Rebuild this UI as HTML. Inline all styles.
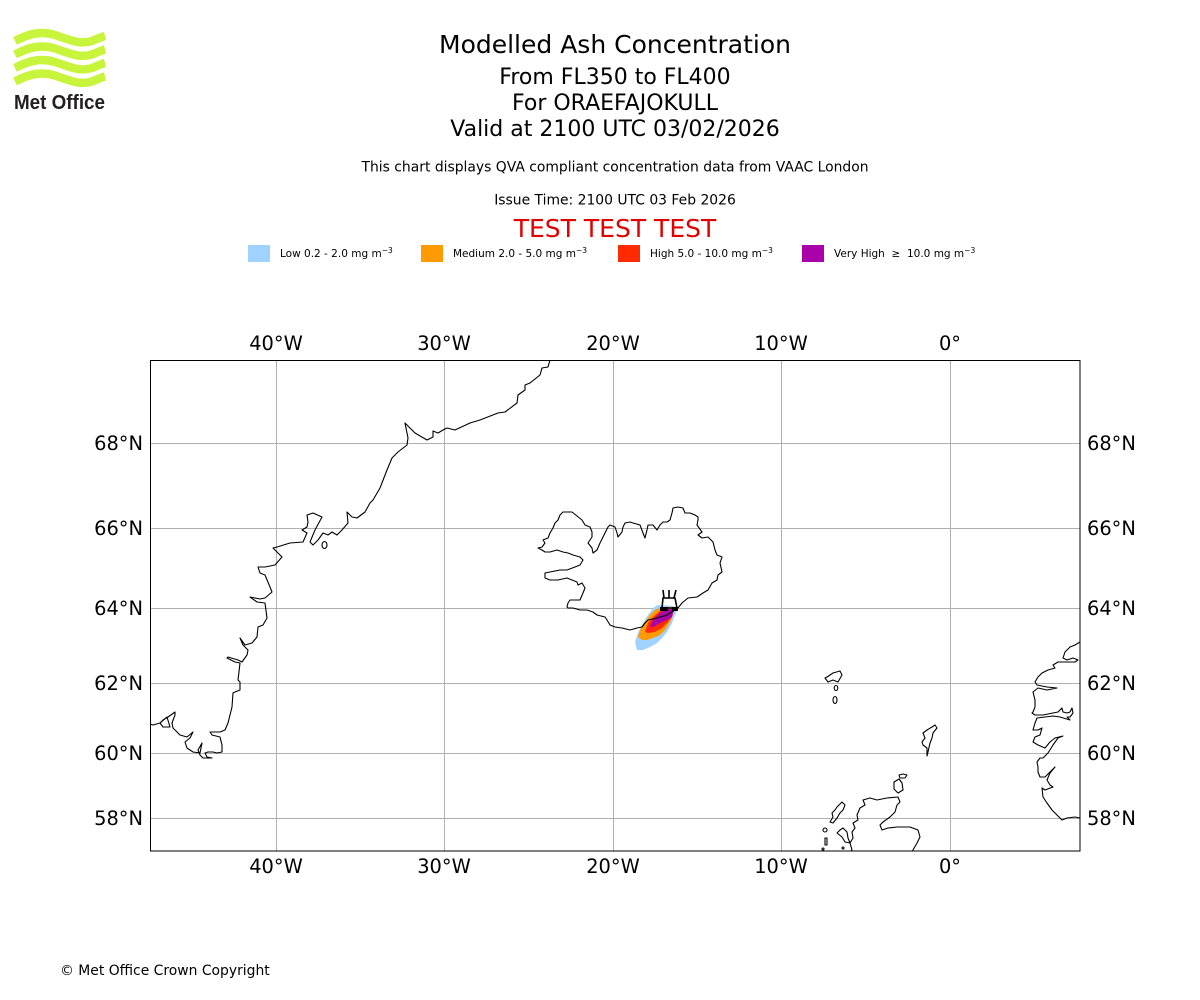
<!DOCTYPE html>
<html><head><meta charset="utf-8"><style>
html,body{margin:0;padding:0;background:#fff;}
svg{display:block;}
text{font-family:"DejaVu Sans","Liberation Sans",sans-serif;}
</style></head><body>
<svg width="1200" height="1000" viewBox="0 0 1200 1000" xmlns="http://www.w3.org/2000/svg">
<rect width="1200" height="1000" fill="#fff"/>
<!-- Logo -->
<g fill="none" stroke="#c8f53c" stroke-width="8.5" stroke-linecap="butt">
<path d="M15,41 C30,33 42,31 55,35 C70,40 80,45 92,41 C97,39 101,37 105,36"/>
<path d="M15,54.5 C30,46.5 42,44.5 55,48.5 C70,53.5 80,58.5 92,54.5 C97,52.5 101,50.5 105,49.5"/>
<path d="M15,68 C30,60 42,58 55,62 C70,67 80,72 92,68 C97,66 101,64 105,63"/>
<path d="M15,81.5 C30,73.5 42,71.5 55,75.5 C70,80.5 80,85.5 92,81.5 C97,79.5 101,77.5 105,76.5"/>
</g>
<text x="14" y="109" font-weight="bold" font-size="20" fill="#231f20" textLength="91" lengthAdjust="spacingAndGlyphs" style="font-family:'Liberation Sans',sans-serif">Met Office</text>
<!-- Titles -->
<g text-anchor="middle" fill="#000">
<text x="615" y="53" font-size="25">Modelled Ash Concentration</text>
<text x="615" y="84" font-size="22">From FL350 to FL400</text>
<text x="615" y="110" font-size="22">For ORAEFAJOKULL</text>
<text x="615" y="136" font-size="22">Valid at 2100 UTC 03/02/2026</text>
<text x="615" y="171.5" font-size="13.9">This chart displays QVA compliant concentration data from VAAC London</text>
<text x="615" y="204.5" font-size="13.9">Issue Time: 2100 UTC 03 Feb 2026</text>
<text x="615" y="237" font-size="25" fill="#e00000">TEST TEST TEST</text>
</g>
<!-- Legend -->
<rect x="248" y="245" width="22" height="17" fill="#a0d2ff"/>
<rect x="421" y="245" width="22" height="17" fill="#ff9a00"/>
<rect x="618" y="245" width="22" height="17" fill="#ff2a00"/>
<rect x="802" y="245" width="22" height="17" fill="#aa00aa"/>
<g font-size="10.5" fill="#000">
<text x="280" y="257">Low 0.2 - 2.0 mg m<tspan font-size="7.5" dy="-4">−3</tspan></text>
<text x="453" y="257">Medium 2.0 - 5.0 mg m<tspan font-size="7.5" dy="-4">−3</tspan></text>
<text x="650" y="257">High 5.0 - 10.0 mg m<tspan font-size="7.5" dy="-4">−3</tspan></text>
<text x="834" y="257">Very High&#160;&#160;≥&#160;&#160;10.0 mg m<tspan font-size="7.5" dy="-4">−3</tspan></text>
</g>
<!-- Map -->
<defs><clipPath id="mc"><rect x="150" y="360" width="930" height="491"/></clipPath></defs>
<g clip-path="url(#mc)">
<!-- gridlines -->
<g stroke="#b0b0b0" stroke-width="1">
<line x1="276.5" y1="360" x2="276.5" y2="851"/>
<line x1="444.5" y1="360" x2="444.5" y2="851"/>
<line x1="613.5" y1="360" x2="613.5" y2="851"/>
<line x1="781.5" y1="360" x2="781.5" y2="851"/>
<line x1="950.5" y1="360" x2="950.5" y2="851"/>
<line x1="150" y1="443.5" x2="1080" y2="443.5"/>
<line x1="150" y1="528.5" x2="1080" y2="528.5"/>
<line x1="150" y1="608.5" x2="1080" y2="608.5"/>
<line x1="150" y1="683.5" x2="1080" y2="683.5"/>
<line x1="150" y1="753.5" x2="1080" y2="753.5"/>
<line x1="150" y1="818.5" x2="1080" y2="818.5"/>
</g>
<!-- ash plume -->
<polygon fill="#a0d2ff" points="637,650 635,642 638,633 643,623 648,615 653,608 658,605 673,606 678,608 675,615 672,623 667,632 662,638 657,643 650,647 643,650"/>
<polygon fill="#ff9a00" points="638,637 640,630 645,622 650,615 655,610 662,607 674,607 673,615 670,622 665,630 660,635 653,638 647,640 642,640"/>
<polygon fill="#ff2a00" points="645,632 648,623 653,617 660,611 672,609 672,617 667,623 662,628 655,632 648,633"/>
<polygon fill="#aa00aa" points="650,627 653,620 660,613 667,609 674,609 672,617 667,620 660,623 653,627"/>
<!-- coastlines -->
<g fill="none" stroke="#000" stroke-width="1.1" stroke-linejoin="round">
<polyline points="550,360 548,367 542,368 540,375 530,383 525,385 525,390 518,395 517,403 505,412 498,413 480,420 470,423 455,430 447,428 443,430 438,433 433,431 433,437 427,440 415,433 405,423 408,438 407,445 398,452 392,458 387,470 380,488 373,500 370,503 365,512 357,518 352,517 347,512 348,523 342,530 337,535 332,532 328,535 323,533 318,540 313,545 310,542 315,530 322,517 313,513 307,515 308,522 307,527 302,530 307,533 303,542 290,543 277,547 273,548 278,553 282,557 275,565 265,567 258,567 260,573 265,575 270,587 272,592 265,598 260,599 250,597 257,602 265,603 267,618 263,625 258,627 257,637 252,643 245,645 240,638 243,645 248,650 247,655 242,662 238,660 228,657 227,658 235,662 240,663 238,680 240,682 240,690 235,692 233,693 232,707 228,723 225,730 220,732 210,732 212,735 220,737 222,745 222,752 217,753 213,752 208,752 205,753 207,757 212,758 203,758 200,755 198,750 202,743 200,753 193,752 187,748 185,742 190,738 193,732 187,737 180,735 173,728 172,723 175,715 175,712 168,717 163,720 160,723 153,725 150,724"/>
<ellipse cx="324.5" cy="545" rx="2.5" ry="3.5"/>
<polygon points="160,723 167,717 170,727 163,727"/>
<!-- Iceland -->
<polygon points="560,515 563,512 572,512 577,516 582,520 585,525 590,527 592,532 592,537 588,543 592,548 593,553 597,550 600,543 603,537 608,527 610,525 615,527 617,533 618,537 622,532 623,527 625,523 630,522 633,523 640,525 643,533 645,538 647,530 648,525 653,525 657,530 660,525 663,522 667,522 670,520 672,513 673,508 678,507 683,508 685,513 690,513 695,515 698,517 698,520 697,525 702,532 698,535 702,538 708,537 713,542 715,550 717,555 722,557 720,563 722,572 718,575 717,580 712,583 708,590 703,593 697,597 688,598 682,603 678,608 675,610 667,615 657,618 648,620 645,623 642,627 637,628 630,630 622,628 615,627 610,625 607,620 605,617 597,615 593,612 587,610 580,610 573,608 568,608 567,607 568,603 570,600 573,600 580,600 583,593 585,588 582,583 578,585 577,582 572,580 567,578 558,580 550,580 545,578 545,573 550,572 560,570 567,570 575,567 580,565 583,560 580,557 573,555 568,553 563,552 557,550 550,552 545,552 542,550 538,548 542,547 545,543 543,540 548,538 550,533 553,528 555,523 558,520"/>
<!-- Faroe -->
<polygon points="827,677 833,673 840,671 842,675 838,682 833,680 828,682 825,678"/>
<ellipse cx="836" cy="688" rx="1.8" ry="2.5"/>
<ellipse cx="835" cy="700" rx="2" ry="3.5"/>
<!-- Shetland -->
<polygon points="927,730 932,727 935,725 937,728 933,733 932,738 930,743 928,752 927,756 927,748 923,745 922,742 925,738 923,733"/>
<!-- Orkney -->
<polygon points="894,782 899,779 902,783 903,790 898,793 894,789"/>
<polygon points="899,775 903,774 907,775 905,778 900,778"/>
<!-- Scotland -->
<polyline points="850,852 852,850 850,843 853,838 852,832 855,828 853,823 858,820 857,815 860,808 865,805 863,800 870,798 877,800 887,798 898,797 900,802 897,805 895,812 890,817 883,822 880,825 882,830 888,828 897,827 910,827 918,830 920,837 917,843 913,850 912,852"/>
<polygon points="840,830 843,828 847,832 848,838 850,843 845,842 842,837 837,833"/>
<polygon points="842,802 845,805 843,810 840,813 837,818 833,823 830,822 833,817 832,813 835,810 837,807"/>
<circle cx="825" cy="830" r="2"/>
<rect x="825" y="838" width="2" height="7"/>
<circle cx="823" cy="849" r="1"/>
<circle cx="843" cy="848" r="1"/>
<!-- Norway -->
<polyline points="1080,642 1075,645 1070,647 1065,652 1063,658 1067,660 1073,658 1078,660 1075,662 1067,662 1058,662 1053,665 1055,668 1048,670 1042,673 1038,677 1035,682 1037,685 1047,687 1057,688 1047,690 1038,688 1033,692 1035,700 1035,707 1033,712 1032,713 1035,715 1043,715 1053,713 1058,712 1062,708 1063,712 1067,713 1070,712 1072,708 1073,713 1070,717 1067,717 1070,720 1060,717 1053,716 1045,717 1037,718 1035,723 1033,730 1038,730 1042,728 1040,735 1035,737 1033,742 1038,745 1045,748 1050,742 1055,738 1063,736 1058,738 1053,745 1048,753 1043,758 1040,758 1037,762 1038,767 1038,772 1040,777 1045,777 1052,770 1055,767 1050,773 1047,780 1050,785 1053,787 1045,790 1042,788 1043,797 1047,803 1052,810 1057,815 1062,820 1067,818 1075,817 1080,818"/>
<!-- volcano symbol -->
<polygon points="663,598 675,598 677,608 662,608" stroke-width="1.6"/>
<line x1="663" y1="590" x2="664" y2="598" stroke-width="1.6"/>
<line x1="669" y1="590" x2="669" y2="598" stroke-width="1.6"/>
<line x1="676" y1="590" x2="674" y2="598" stroke-width="1.6"/>
</g>
<rect x="660" y="607" width="8" height="4" fill="#000"/>
<rect x="672" y="607" width="6" height="4" fill="#000"/>
</g>
<rect x="150.5" y="360.5" width="929.5" height="490.5" fill="none" stroke="#000" stroke-width="1"/>
<!-- tick labels -->
<g font-size="19.4" fill="#000" text-anchor="middle">
<text x="276" y="350">40°W</text>
<text x="444" y="350">30°W</text>
<text x="613" y="350">20°W</text>
<text x="781" y="350">10°W</text>
<text x="950" y="350">0°</text>
<text x="276" y="873">40°W</text>
<text x="444" y="873">30°W</text>
<text x="613" y="873">20°W</text>
<text x="781" y="873">10°W</text>
<text x="950" y="873">0°</text>
</g>
<g font-size="19.4" fill="#000" text-anchor="end">
<text x="143" y="450">68°N</text>
<text x="143" y="535">66°N</text>
<text x="143" y="615">64°N</text>
<text x="143" y="690">62°N</text>
<text x="143" y="760">60°N</text>
<text x="143" y="825">58°N</text>
</g>
<g font-size="19.4" fill="#000" text-anchor="start">
<text x="1087" y="450">68°N</text>
<text x="1087" y="535">66°N</text>
<text x="1087" y="615">64°N</text>
<text x="1087" y="690">62°N</text>
<text x="1087" y="760">60°N</text>
<text x="1087" y="825">58°N</text>
</g>
<text x="60" y="975" font-size="13.9" fill="#000">© Met Office Crown Copyright</text>
</svg>
</body></html>
